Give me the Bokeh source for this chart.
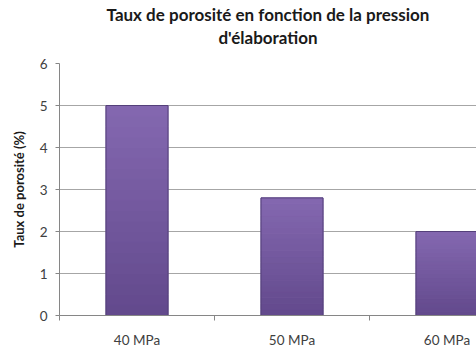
from bokeh.plotting import figure
from bokeh.models import Range1d, FixedTicker, ColumnDataSource, Title
from bokeh.embed import file_html
from bokeh.resources import INLINE

categories = ["40 MPa", "50 MPa", "60 MPa"]
values = [5.0, 2.8, 2.0]
y_ticks = [0, 1, 2, 3, 4, 5, 6]

title_lines = ["Taux de porosité en fonction de la pression", "d'élaboration"]
y_label = "Taux de porosité (%)"

W, H = 476, 350
p = figure(width=W, height=H, output_backend="svg", toolbar_location=None,
           x_range=Range1d(0, (W - 59) / 155), y_range=Range1d(0, 6),
           min_border_left=59, min_border_right=0, min_border_bottom=35, min_border_top=63)

# spacer between the title block and the plot area (first added = nearest the frame)
spacer = Title(text=" ", text_font_size="1px", standoff=13)
p.add_layout(spacer, "above")
# two-line centered title: p.title is outermost
t2 = Title(text=title_lines[1])
p.add_layout(t2, "above")
p.title.text = title_lines[0]
for t in (p.title, t2):
    t.text_font = "Lato"
    t.text_font_size = "17px"
    t.text_font_style = "bold"
    t.align = "center"
    t.text_color = "#1a1a1a"
    t.offset = 0
    t.standoff = 0

# gradient bars built from slices of each bar's value
top_c = (0x84, 0x68, 0xb0)
bot_c = (0x62, 0x49, 0x8c)
n = 20
xs, bots, tops, cols = [], [], [], []
for i, v in enumerate(values):
    for k in range(n):
        f0, f1 = k / n, (k + 1) / n
        t = (k + 0.5) / n
        c = tuple(int(round(bot_c[j] + (top_c[j] - bot_c[j]) * t)) for j in range(3))
        xs.append(i + 0.5)
        bots.append(v * f0)
        tops.append(v * f1)
        cols.append("#%02x%02x%02x" % c)
src = ColumnDataSource(dict(x=xs, bottom=bots, top=tops, color=cols))
p.vbar(x="x", bottom="bottom", top="top", width=0.4, fill_color="color",
       line_color="color", line_width=1, source=src)
p.vbar(x=[i + 0.5 for i in range(len(values))], top=values, bottom=0, width=0.4,
       fill_color=None, line_color="#54407a", line_width=1)

p.yaxis.ticker = FixedTicker(ticks=y_ticks)
p.xaxis.ticker = FixedTicker(ticks=[i + 0.5 for i in range(len(categories))],
                             minor_ticks=[0, 1, 2, 3])
p.xaxis.major_label_overrides = {i + 0.5: c for i, c in enumerate(categories)}

for ax in (p.xaxis, p.yaxis):
    ax.axis_line_color = "#868686"
    ax.major_label_text_font = "Lato"
    ax.major_label_text_font_size = "13.5px"
    ax.major_label_text_color = "#404040"
p.xaxis.major_tick_line_color = None
p.xaxis.minor_tick_line_color = "#868686"
p.xaxis.minor_tick_out = 5
p.xaxis.minor_tick_in = 0
p.xaxis.major_label_standoff = 10
p.yaxis.major_tick_line_color = "#868686"
p.yaxis.major_tick_out = 4
p.yaxis.major_tick_in = 0
p.yaxis.minor_tick_line_color = None
p.yaxis.major_label_standoff = 8
p.yaxis.axis_label = y_label
p.yaxis.axis_label_text_font = "Lato"
p.yaxis.axis_label_text_font_size = "13px"
p.yaxis.axis_label_text_font_style = "bold"
p.yaxis.axis_label_text_color = "#1a1a1a"
p.yaxis.axis_label_standoff = 10

p.xgrid.grid_line_color = None
p.ygrid.grid_line_color = "#a6a6a6"
p.outline_line_color = None

open("out.html", "w").write(file_html(p, INLINE))
